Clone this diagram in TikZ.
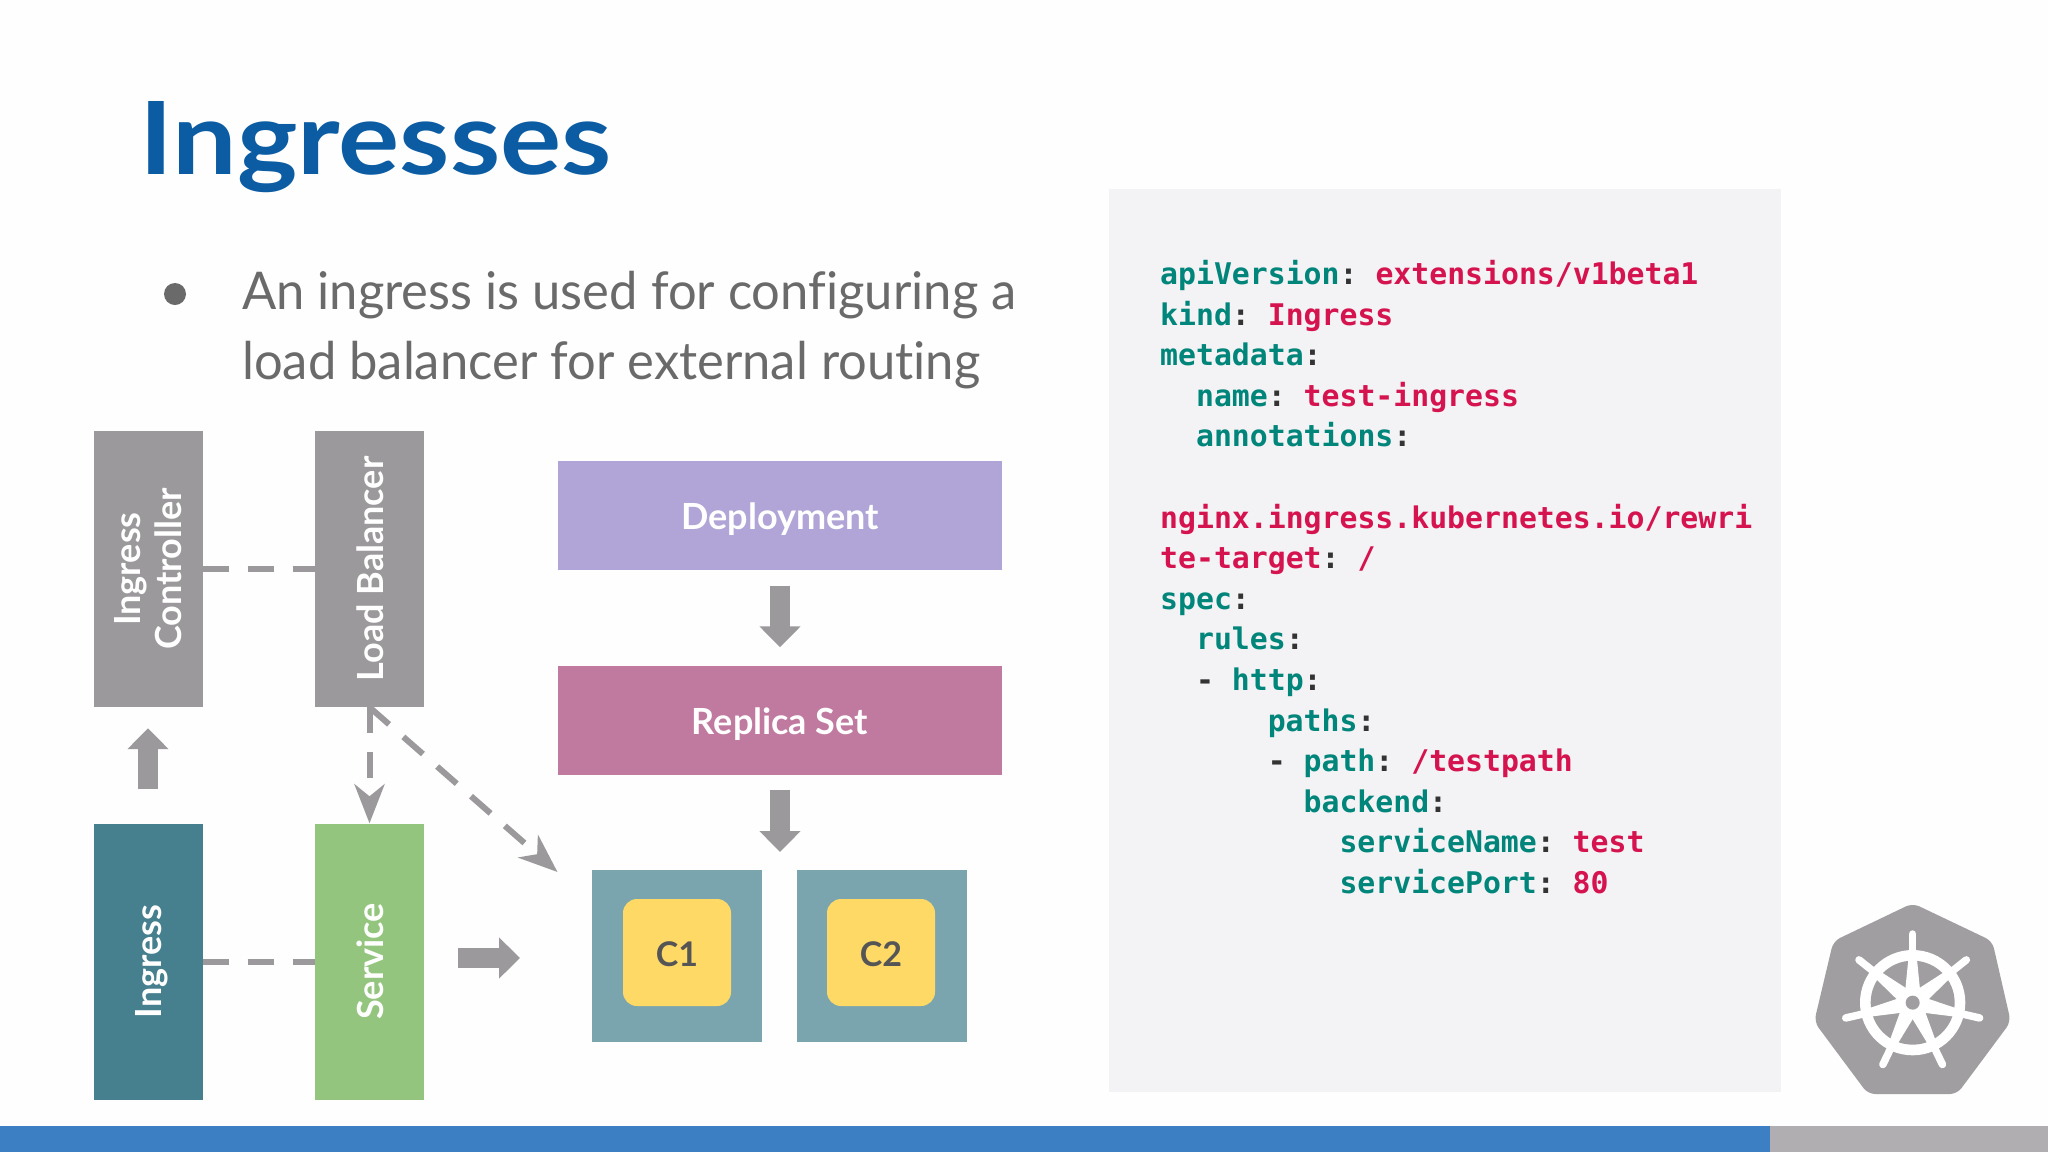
\documentclass[tikz,border=0pt]{standalone}
\usepackage{fontspec}
\setmainfont{Lato}
\setmonofont{DejaVu Sans Mono}
\newfontfamily\titlefont[FakeStretch=1.134]{Lato}
\newfontfamily\bodyfont[FakeStretch=0.975,Ligatures=NoCommon]{Lato}
\newfontfamily\boxfont{Lato}
\usetikzlibrary{arrows.meta}
\definecolor{bggray}{HTML}{FEFEFE}
\definecolor{arrowgray}{HTML}{9B999B}
\definecolor{titleblue}{HTML}{0B5CA3}
\definecolor{bodygray}{HTML}{6A6A6A}
\definecolor{panelgray}{HTML}{F3F2F4}
\definecolor{deploycol}{HTML}{B0A5D6}
\definecolor{replicacol}{HTML}{C0799F}
\definecolor{ingresscol}{HTML}{46808E}
\definecolor{servicecol}{HTML}{94C57E}
\definecolor{podcol}{HTML}{7AA5AF}
\definecolor{contcol}{HTML}{FFD966}
\definecolor{barblue}{HTML}{3D7FC3}
\definecolor{bargray}{HTML}{B0AEB0}
\definecolor{keyteal}{HTML}{00857A}
\definecolor{valred}{HTML}{D5134F}
\definecolor{colondark}{HTML}{333333}
\definecolor{ctext}{HTML}{555555}
\newlength{\chw}\setlength{\chw}{17.93pt}
\newcommand{\kk}[1]{\textcolor{keyteal}{#1}}
\newcommand{\vv}[1]{\textcolor{valred}{#1}}
\newcommand{\cc}{\textcolor{colondark}{:}}
\newcommand{\ind}[1]{\hspace*{#1\chw}}
\newcommand{\lowered}[2]{\raisebox{-#1}[\height][\depth]{#2}}
\newcommand{\rot}[2]{\rotatebox{90}{\lowered{#1}{#2}}}
\tikzset{
  box/.style={fill=#1,inner sep=0pt,text=white,align=center,font=\boxfont\fontsize{36}{41}\selectfont\bfseries},
  vbox/.style={box=#1,minimum width=109pt,minimum height=276pt},
  hbox/.style={box=#1,minimum width=444pt,minimum height=109pt},
  podbox/.style={fill=podcol,inner sep=0pt,minimum width=170pt,minimum height=172pt},
  cbox/.style={fill=contcol,rounded corners=14pt,inner sep=0pt,minimum width=108pt,minimum height=107pt,text=ctext,font=\boxfont\fontsize{34}{38}\selectfont\bfseries},
  dashline/.style={draw=arrowgray,line width=6pt,dash pattern=on 26pt off 19pt},
  dasharrow/.style={dashline,-{Stealth[length=39pt,width=30pt,inset=12pt]}},
  blockarrow/.style={draw=arrowgray,line width=20pt,-{Triangle[length=21pt,width=40pt]}},
}
\begin{document}
\begin{tikzpicture}[x=1pt,y=-1pt]
\useasboundingbox (0,0) rectangle (2048,1152);
\fill[bggray] (0,0) rectangle (2048,1152);
\fill[barblue] (0,1126) rectangle (1770,1152);
\fill[bargray] (1770,1126) rectangle (2048,1152);

\node[anchor=base west,inner sep=0pt,text=titleblue,font=\titlefont\fontsize{101}{110}\selectfont\bfseries] (title) at (139,174) {Ingresses};
\fill[bodygray] (175,294) circle (11pt);
\node[anchor=base west,inner sep=0pt,text=bodygray,font=\bodyfont\fontsize{52}{56}\selectfont] (line1) at (242,309) {An ingress is used for configuring a};
\node[anchor=base west,inner sep=0pt,text=bodygray,font=\bodyfont\fontsize{52}{56}\selectfont] (line2) at (242,379) {load balancer for external routing};

\node[vbox=arrowgray] (ic) at (148,569) {\rot{5pt}{\begin{tabular}{@{}c@{}}Ingress\\Controller\end{tabular}}};
\node[vbox=arrowgray] (lb) at (369.5,569) {\rot{1pt}{Load Balancer}};
\node[vbox=ingresscol] (ing) at (148,961.5) {\rot{4pt}{Ingress}};
\node[vbox=servicecol] (svc) at (369.5,961.5) {\rot{1pt}{Service}};
\node[hbox=deploycol] (dep) at (780,515) {\lowered{4pt}{Deployment}};
\node[hbox=replicacol] (rs) at (780,720) {\lowered{4pt}{Replica Set}};
\node[podbox] (p1) at (676.5,956) {};
\node[podbox] (p2) at (881.5,956) {};
\node[cbox] (c1) at (677,952.5) {\lowered{2pt}{C1}};
\node[cbox] (c2) at (881,952.5) {\lowered{2pt}{C2}};

\coordinate (podtop) at (780,870);
\coordinate (svcout) at (424,958);
\coordinate (podleft) at (592,958);
\coordinate (diagend) at (557.5,872);

\draw[dashline] (ic) -- (lb);
\draw[dashline] (ing) -- (svc);
\draw[dasharrow] (lb.south) -- (svc.north);
\draw[dasharrow] (lb.south) -- (diagend);
\draw[blockarrow,shorten <=34pt,shorten >=21pt] (ing.north) -- (ic.south);
\draw[blockarrow,shorten <=16pt,shorten >=18pt] (dep.south) -- (rs.north);
\draw[blockarrow,shorten <=15pt,shorten >=18pt] (rs.south) -- (podtop);
\draw[blockarrow,shorten <=34pt,shorten >=72pt] (svcout) -- (podleft);

\fill[panelgray] (1109,189) rectangle (1781,1092);
\node[anchor=north west,inner sep=0pt,align=left,font=\fontsize{29.8}{40.6}\selectfont\ttfamily\bfseries] (code) at (1160,260) {%
\kk{apiVersion}\cc{} \vv{extensions/v1beta1}\\
\kk{kind}\cc{} \vv{Ingress}\\
\kk{metadata}\cc\\
\ind{2}\kk{name}\cc{} \vv{test-ingress}\\
\ind{2}\kk{annotations}\cc\\
\mbox{}\\
\vv{nginx.ingress.kubernetes.io/rewri}\\
\vv{te-target}\cc{} \vv{/}\\
\kk{spec}\cc\\
\ind{2}\kk{rules}\cc\\
\ind{2}\textcolor{colondark}{-} \kk{http}\cc\\
\ind{6}\kk{paths}\cc\\
\ind{6}\textcolor{colondark}{-} \kk{path}\cc{} \vv{/testpath}\\
\ind{8}\kk{backend}\cc\\
\ind{10}\kk{serviceName}\cc{} \vv{test}\\
\ind{10}\kk{servicePort}\cc{} \vv{80}};

\begin{scope}[shift={(1760,880)},x=0.3333pt,y=-0.3333pt]
  \fill[arrowgray!95!white,draw=arrowgray!95!white,line width=1.5pt,line join=round,rounded corners=7pt]
    (458,72) -- (695,185) -- (750,425) -- (590,640) -- (325,640) -- (165,425) -- (222,185) -- cycle;
  \begin{scope}[shift={(458,368)}]
    \foreach \a in {90,141.43,192.86,244.29,295.71,347.14,38.57}{
      \begin{scope}[rotate=\a]
        \draw[white,line width=7.5pt,line cap=round] (150,0) -- (206,0);
      \end{scope}
    }
    \fill[white] (0,0) circle (158);
    \fill[arrowgray!95!white] (0,0) circle (126);
    \foreach \a in {90,141.43,192.86,244.29,295.71,347.14,38.57}{
      \begin{scope}[rotate=\a]
        \fill[white] (0,-26) -- (130,-13) -- (130,13) -- (0,26) -- cycle;
      \end{scope}
    }
    \fill[white] (0,0) circle (48);
    \fill[arrowgray!95!white] (0,0) circle (21);
  \end{scope}
\end{scope}
\end{tikzpicture}
\end{document}
